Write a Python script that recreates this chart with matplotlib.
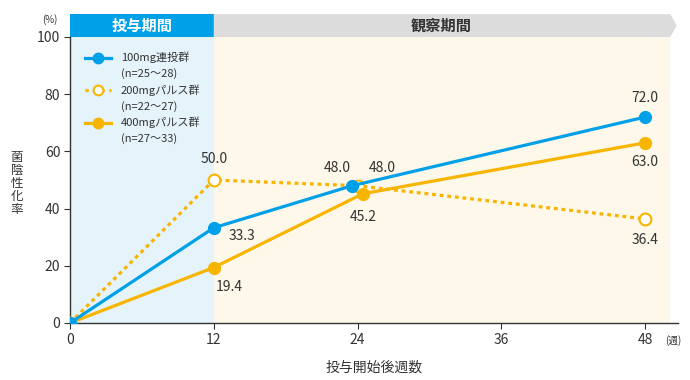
import numpy as np
import matplotlib
matplotlib.use('Agg')
import matplotlib.pyplot as plt
from matplotlib.lines import Line2D
from matplotlib.patches import Rectangle, Polygon
import matplotlib.transforms as mtransforms

plt.rcParams['font.family'] = ['Noto Sans CJK JP', 'DejaVu Sans']

# data (weeks, % culture negative) - points at week 24 are dodged a little in the original
weeks_100 = [0, 12, 23.55, 48]
rate_100 = [0, 33.3, 48.0, 72.0]
weeks_200 = [0, 12, 24, 48]
rate_200 = [0, 50.0, 48.0, 36.4]
weeks_400 = [0, 12, 24.45, 48]
rate_400 = [0, 19.4, 45.2, 63.0]

labels = ['100mg連投群', '200mgパルス群', '400mgパルス群']
n_text = ['(n=25～28)', '(n=22～27)', '(n=27～33)']
xticks = [0, 12, 24, 36, 48]
yticks = [0, 20, 40, 60, 80, 100]

blue = '#00a0e9'
yellow = '#f8b500'
txt = '#333333'

fig = plt.figure(figsize=(6.9, 3.8), dpi=100)
ax = fig.add_axes([70/690, 1-323/380, 608/690, 286/380])
ax.set_xlim(0, 50.75)
ax.set_ylim(0, 100)

# background periods
ax.axvspan(0, 12, color='#e5f3fb', zorder=0, lw=0)
ax.axvspan(12, 50.1, color='#fdf8e9', zorder=0, lw=0)

# header band above the axes
trans = mtransforms.blended_transform_factory(ax.transData, ax.transAxes)
ax.add_patch(Rectangle((0, 1.0), 12, 0.08, transform=trans, color=blue, clip_on=False, lw=0))
ax.add_patch(Polygon([(12, 1.0), (50.1, 1.0), (50.65, 1.04), (50.1, 1.08), (12, 1.08)],
                     closed=True, transform=trans, color='#dcdcdc', clip_on=False, lw=0))
ax.text(6, 1.04, '投与期間', transform=trans, ha='center', va='center', color='white',
        fontsize=11, fontweight='bold')
ax.text(31, 1.04, '観察期間', transform=trans, ha='center', va='center', color=txt,
        fontsize=11, fontweight='bold')

ms = 8.5
lw = 2.3
ax.plot(weeks_200, rate_200, color=yellow, lw=lw, ls=(0, (1.2, 1.2)), marker='o', ms=ms,
        mfc='white', mec=yellow, mew=1.5, zorder=3)
ax.plot(weeks_400, rate_400, color=yellow, lw=lw, marker='o', ms=ms, mfc=yellow, mec=yellow, zorder=4)
ax.plot(weeks_100, rate_100, color=blue, lw=lw, marker='o', ms=ms, mfc=blue, mec=blue, zorder=5)

# value labels
def lab(x, y, s, dx, dy, ha='center'):
    ax.annotate(s, (x, y), xytext=(dx, dy), textcoords='offset points', ha=ha, va='center',
                fontsize=10, color=txt, zorder=6)

lab(weeks_100[1], rate_100[1], f'{rate_100[1]:.1f}', 20, -6)
lab(weeks_100[2], rate_100[2], f'{rate_100[2]:.1f}', -11, 13)
lab(weeks_100[3], rate_100[3], f'{rate_100[3]:.1f}', 0, 14)
lab(weeks_200[1], rate_200[1], f'{rate_200[1]:.1f}', 0, 15)
lab(weeks_200[2], rate_200[2], f'{rate_200[2]:.1f}', 18, 13)
lab(weeks_200[3], rate_200[3], f'{rate_200[3]:.1f}', 0, -15)
lab(weeks_400[1], rate_400[1], f'{rate_400[1]:.1f}', 11, -14)
lab(weeks_400[2], rate_400[2], f'{rate_400[2]:.1f}', 0, -17)
lab(weeks_400[3], rate_400[3], f'{rate_400[3]:.1f}', 0, -14)

# axes styling
for s in ['top', 'right']:
    ax.spines[s].set_visible(False)
for s in ['left', 'bottom']:
    ax.spines[s].set_color(txt)
    ax.spines[s].set_linewidth(1)
ax.set_xticks(xticks)
ax.set_yticks(yticks)
ax.tick_params(axis='both', colors=txt, labelsize=10, length=4, width=0.8, pad=3)

ax.set_xlabel('投与開始後週数', fontsize=10, color=txt, labelpad=10)
fig.text(17/690, 1-183/380, '菌\n陰\n性\n化\n率', ha='center', va='center', fontsize=9,
         color=txt, linespacing=1.0)
fig.text(50/690, 1-20/380, '(%)', ha='center', va='center', fontsize=7, color=txt)
fig.text(673/690, 1-341/380, '(週)', ha='center', va='center', fontsize=7, color=txt)

# legend: one row for the name, one row for n
handles = []
leg_labels = []
styles = [dict(color=blue, ls='-', mfc=blue),
          dict(color=yellow, ls=(0, (1, 1.5)), mfc='white'),
          dict(color=yellow, ls='-', mfc=yellow)]
for st, name, n in zip(styles, labels, n_text):
    handles.append(Line2D([], [], color=st['color'], ls=st['ls'], lw=lw, marker='o', ms=7,
                          mfc=st['mfc'], mec=st['color'], mew=1.5))
    leg_labels.append(name)
    handles.append(Line2D([], [], color='none'))
    leg_labels.append(n)
leg = ax.legend(handles, leg_labels, loc='upper left', bbox_to_anchor=(0.012, 0.975),
                frameon=False, fontsize=8, handlelength=2.3, handletextpad=0.9,
                labelspacing=0.45, borderaxespad=0.3)
for t in leg.get_texts():
    t.set_color(txt)

fig.savefig('out.png', dpi=100)
